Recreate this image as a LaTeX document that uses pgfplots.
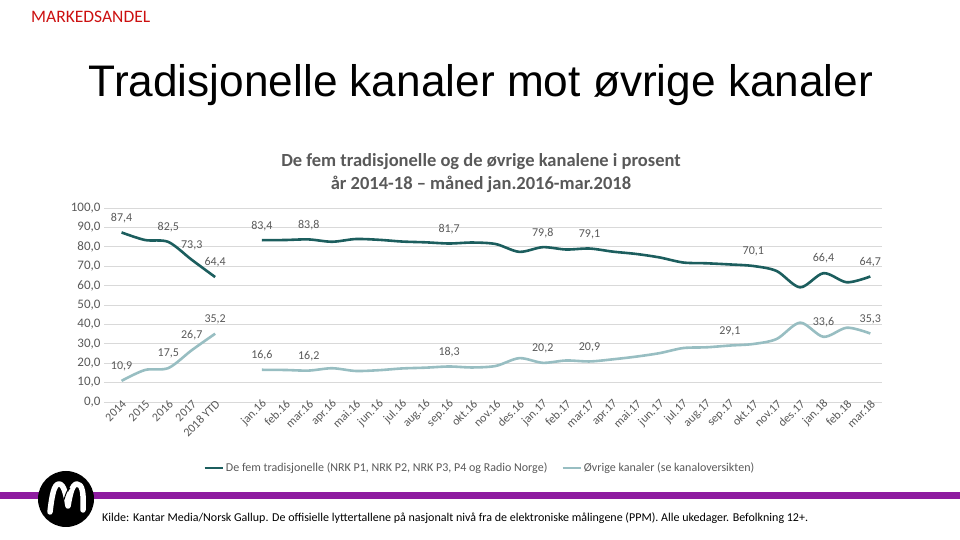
\documentclass[border=0pt]{standalone}
\usepackage{fontspec}
\setmainfont{Carlito}
\newfontfamily\arialfont{Liberation Sans}
\usepackage{pgfplots}
\pgfplotsset{compat=1.18}
\definecolor{darkteal}{RGB}{28,94,94}
\definecolor{lightteal}{RGB}{152,190,194}
\definecolor{labgray}{RGB}{89,89,89}
\definecolor{gridgray}{RGB}{217,217,217}
\definecolor{mkred}{RGB}{204,16,16}
\definecolor{purp}{RGB}{142,27,160}
\begin{document}
\begin{tikzpicture}[x=1pt,y=1pt]
\path[use as bounding box] (0,0) rectangle (960,540);
% header
\node[anchor=west, text=mkred, font=\fontsize{17.5}{19}\selectfont, inner sep=0] at (31,523) {MARKEDSANDEL};
\node[anchor=base, font=\arialfont\fontsize{44.2}{50}\selectfont, inner sep=0] at (481,443) {Tradisjonelle kanaler mot øvrige kanaler};
\node[align=center, text=labgray, font=\bfseries\fontsize{18.5}{23}\selectfont, anchor=base, inner sep=0] at (481,350) {De fem tradisjonelle og de øvrige kanalene i prosent\\år 2014-18 – måned jan.2016-mar.2018};
% footer
\fill[purp] (0,41) rectangle (960,48);
\fill[black] (66,41) circle (28);
\draw[white, line width=5.5, line cap=round, line join=round] (50,28) .. controls (52,45) and (54,56) .. (59,56) .. controls (64,56) and (66,45) .. (68,34) .. controls (70,45) and (72,56) .. (77,56) .. controls (82,56) and (84,48) .. (83,30);
\draw[black, line width=1] (61,30) .. controls (64,40) and (66,50) .. (70,52);
\node[anchor=base west, font=\fontsize{12}{14}\selectfont, inner sep=0] at (102,18) {Kilde: Kantar Media/Norsk Gallup. De offisielle lyttertallene på nasjonalt nivå fra de elektroniske målingene (PPM). Alle ukedager. Befolkning 12+.};
\begin{axis}[
  at={(104pt,138pt)}, anchor=south west,
  scale only axis, width=778pt, height=194pt,
  xmin=-0.75, xmax=32.5, ymin=0, ymax=100,
  clip=false,
  axis line style={draw=none},
  major tick length=0pt,
  ymajorgrids, grid style={gridgray, line width=0.8pt},
  ytick={0,10,...,100},
  /pgf/number format/assume math mode=true,
  yticklabel style={font=\fontsize{13}{15}\selectfont, text=labgray, /pgf/number format/.cd, fixed, fixed zerofill, precision=1, use comma},
  xtick={0,1,2,3,4,6,7,8,9,10,11,12,13,14,15,16,17,18,19,20,21,22,23,24,25,26,27,28,29,30,31,32},
  xticklabels={2014,2015,2016,2017,2018 YTD,jan.16,feb.16,mar.16,apr.16,mai.16,jun.16,jul.16,aug.16,sep.16,okt.16,nov.16,des.16,jan.17,feb.17,mar.17,apr.17,mai.17,jun.17,jul.17,aug.17,sep.17,okt.17,nov.17,des.17,jan.18,feb.18,mar.18},
  xticklabel style={text=labgray, font=\fontsize{12}{14}\selectfont, rotate=45, anchor=east, inner sep=1pt, xshift=3pt, yshift=-2pt},
  legend style={at={(0.483,-0.34)}, anchor=center, draw=none, fill=none, legend columns=2,
    font=\fontsize{12}{14}\selectfont, text=labgray, /tikz/every even column/.append style={column sep=12pt}},
  legend image code/.code={\draw[#1, line width=2.6pt] (0pt,0pt) -- (18pt,0pt);},
  every node near coord/.append style={anchor=center, yshift=14.5pt, text=labgray, font=\fontsize{12}{14}\selectfont},
]
\addplot[darkteal, line width=2.6pt, smooth] coordinates {(0,87.4) (1,83.5) (2,82.5) (3,73.3) (4,64.4)};
\addlegendentry{De fem tradisjonelle (NRK P1, NRK P2, NRK P3, P4 og Radio Norge)}
\addplot[lightteal, line width=2.6pt, smooth] coordinates {(0,10.9) (1,16.5) (2,17.5) (3,26.7) (4,35.2)};
\addlegendentry{Øvrige kanaler (se kanaloversikten)}
\addplot[darkteal, line width=2.6pt, smooth, forget plot] table {
x y
6 83.4
7 83.5
8 83.8
9 82.6
10 84.0
11 83.6
12 82.7
13 82.3
14 81.7
15 82.2
16 81.4
17 77.4
18 79.8
19 78.6
20 79.1
21 77.5
22 76.3
23 74.5
24 71.9
25 71.5
26 70.9
27 70.1
28 67.5
29 59.1
30 66.4
31 61.7
32 64.7
};
\addplot[lightteal, line width=2.6pt, smooth, forget plot] table {
x y
6 16.6
7 16.5
8 16.2
9 17.4
10 16.0
11 16.4
12 17.3
13 17.7
14 18.3
15 17.8
16 18.6
17 22.6
18 20.2
19 21.4
20 20.9
21 22.0
22 23.4
23 25.2
24 27.8
25 28.2
26 29.1
27 29.9
28 32.5
29 40.9
30 33.6
31 38.3
32 35.3
};
\addplot[draw=none, forget plot, nodes near coords, point meta=explicit symbolic] table[meta=l] {
x y l
0 87.4 87,4
2 82.5 82,5
3 73.3 73,3
4 64.4 64,4
6 83.4 83,4
8 83.8 83,8
14 81.7 81,7
18 79.8 79,8
20 79.1 79,1
27 70.1 70,1
30 66.4 66,4
32 64.7 64,7
0 10.9 10,9
2 17.5 17,5
3 26.7 26,7
4 35.2 35,2
6 16.6 16,6
8 16.2 16,2
14 18.3 18,3
18 20.2 20,2
20 20.9 20,9
26 29.1 29,1
30 33.6 33,6
32 35.3 35,3
};
\end{axis}
\end{tikzpicture}
\end{document}
